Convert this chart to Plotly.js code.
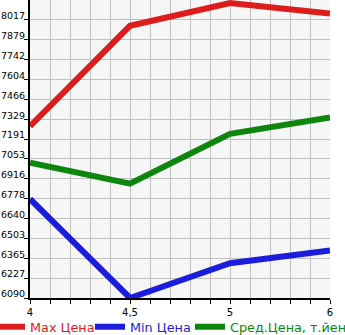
<!DOCTYPE html>
<html><head><meta charset="utf-8">
<script src="https://cdn.plot.ly/plotly-3.0.1.min.js"></script>
<style>body{margin:0;padding:0;background:#fff}#chart{width:345px;height:335px}</style>
</head><body><div id="chart"></div>
<script>
var categories = ["4", "4,5", "5", "6"];
var maxPrice = [7281, 7976, 8134, 8061];
var minPrice = [6776, 6090, 6331, 6420];
var avgPrice = [7028, 6882, 7228, 7341];
var yTickVals = [6090, 6227.67, 6365.33, 6503, 6640.67, 6778.33, 6916, 7053.67, 7191.33, 7329, 7466.67, 7604.33, 7742, 7879.67, 8017.33];
var yTickText = ["6090", "6227", "6365", "6503", "6640", "6778", "6916", "7053", "7191", "7329", "7466", "7604", "7742", "7879", "8017"];
var seriesNames = ["Max Цена", "Min Цена", "Сред.Цена, т.йен"];
var seriesColors = ["#dd1c1c", "#1c1cdd", "#0e860e"];
var legendIds = ["legend", "legend2", "legend3"];
var legendX = [-0.1333, 0.2, 0.5333];

var xIdx = categories.map(function(c, i){ return i; });
var data = [maxPrice, minPrice, avgPrice].map(function(vals, k){
  return {
    x: xIdx, y: vals, type: 'scatter', mode: 'lines',
    name: '<span style="color:' + seriesColors[k] + '">' + seriesNames[k] + '</span>',
    line: {color: seriesColors[k], width: 6},
    legend: legendIds[k],
    hoverinfo: 'none'
  };
});

var layout = {
  width: 345, height: 335,
  margin: {l: 30, r: 15, t: 0, b: 37, autoexpand: false},
  paper_bgcolor: '#ffffff', plot_bgcolor: '#f6f6f6',
  font: {family: 'DejaVu Sans', size: 10, color: '#000'},
  showlegend: true,
  xaxis: {
    range: [0, 3], tickvals: xIdx, ticktext: categories,
    showgrid: true, gridcolor: '#c0c0c0', gridwidth: 1,
    showline: true, linecolor: '#000', linewidth: 2,
    ticks: 'outside', ticklen: 4, tickcolor: '#000', tickwidth: 1,
    zeroline: false, fixedrange: true, automargin: false,
    minor: {dtick: 0.2, tick0: 0, showgrid: true, gridcolor: '#c0c0c0', gridwidth: 1,
            ticks: 'outside', ticklen: 4, tickcolor: '#000'}
  },
  yaxis: {
    range: [6090, 8155], tickvals: yTickVals, ticktext: yTickText,
    showgrid: true, gridcolor: '#c0c0c0', gridwidth: 1,
    showline: true, linecolor: '#000', linewidth: 2,
    ticks: 'outside', ticklen: 4, tickcolor: '#000', tickwidth: 1,
    ticklabelshift: -4, ticklabelstandoff: -3,
    tickfont: {size: 9.5},
    zeroline: false, fixedrange: true, automargin: false
  }
};
legendIds.forEach(function(id, k){
  layout[id] = {orientation: 'h', x: legendX[k], xanchor: 'left', y: -0.097, yanchor: 'middle',
                font: {family: 'DejaVu Sans', size: 12.8}, itemwidth: 30, bgcolor: 'rgba(0,0,0,0)'};
});
Plotly.newPlot('chart', data, layout, {staticPlot: true, displayModeBar: false});
</script></body></html>
